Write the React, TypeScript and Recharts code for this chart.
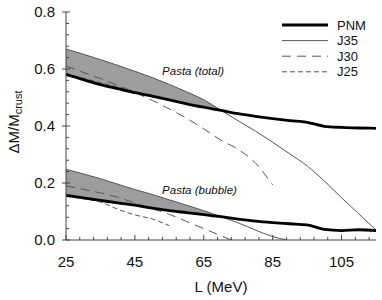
import React from 'react';
import { ComposedChart, Line, Area, XAxis, YAxis, ReferenceDot } from 'recharts';

// ---- data ----
const totalL = [25, 30, 35, 40, 45, 50, 55, 60, 65, 70, 75, 80, 85, 90, 95, 100, 105, 110, 115];
const pnmTotal = [0.581, 0.563, 0.545, 0.531, 0.517, 0.505, 0.492, 0.478, 0.466, 0.455, 0.443, 0.434, 0.426, 0.419, 0.413, 0.399, 0.395, 0.393, 0.392];
const j35Total = [0.67, 0.652, 0.633, 0.613, 0.592, 0.57, 0.546, 0.52, 0.492, 0.455, 0.418, 0.382, 0.343, 0.302, 0.26, 0.207, 0.148, 0.092, 0.035];
const j30TotalL = [25, 30, 35, 40, 45, 50, 55, 60, 65, 70, 75, 80, 85];
const j30Total = [0.61, 0.588, 0.566, 0.543, 0.518, 0.49, 0.46, 0.427, 0.39, 0.35, 0.318, 0.27, 0.193];
const j25TotalL = [25, 30, 35, 40, 45, 49];
const j25Total = [0.584, 0.568, 0.552, 0.537, 0.521, 0.508];

const bubbleL = [25, 30, 35, 40, 45, 50, 55, 60, 65, 70, 75, 80, 85, 90, 95, 100, 105, 110, 115];
const pnmBubble = [0.157, 0.148, 0.139, 0.13, 0.122, 0.112, 0.103, 0.096, 0.089, 0.082, 0.073, 0.066, 0.061, 0.057, 0.053, 0.037, 0.033, 0.036, 0.033];
const j35BubbleL = [25, 30, 35, 40, 45, 50, 55, 60, 65, 70, 75, 80, 85, 89];
const j35Bubble = [0.248, 0.232, 0.215, 0.196, 0.177, 0.16, 0.141, 0.122, 0.103, 0.082, 0.06, 0.035, 0.012, 0];
const j30BubbleL = [25, 30, 35, 40, 45, 50, 55, 60, 65, 70, 73];
const j30Bubble = [0.19, 0.178, 0.165, 0.15, 0.13, 0.11, 0.09, 0.065, 0.04, 0.015, 0];
const j25BubbleL = [25, 30, 35, 40, 45, 50, 55];
const j25Bubble = [0.153, 0.145, 0.133, 0.108, 0.088, 0.074, 0.05];

const bandEndL = 70;

const xTicks = [25, 29, 33, 37, 41, 45, 49, 53, 57, 61, 65, 69, 73, 77, 81, 85, 89, 93, 97, 101, 105, 109, 113];
const xMajor = [25, 45, 65, 85, 105];
const yTicks = [0, 0.04, 0.08, 0.12, 0.16, 0.2, 0.24, 0.28, 0.32, 0.36, 0.4, 0.44, 0.48, 0.52, 0.56, 0.6, 0.64, 0.68, 0.72, 0.76, 0.8];
const yMajor = [0, 0.2, 0.4, 0.6, 0.8];

const legendNames = ['PNM', 'J35', 'J30', 'J25'];
const annotations = [
  { text: 'Pasta (total)', L: 52.9, v: 0.593 },
  { text: 'Pasta (bubble)', L: 52.9, v: 0.175 },
];

// ---- styles ----
const FONT = '"Liberation Sans", Arial, sans-serif';
const AXIS = '#444';
const styles: Record<string, any> = {
  PNM: { stroke: '#000', strokeWidth: 2.8 },
  J35: { stroke: '#555', strokeWidth: 1 },
  J30: { stroke: '#555', strokeWidth: 1, strokeDasharray: '9 6' },
  J25: { stroke: '#555', strokeWidth: 1, strokeDasharray: '5 3' },
};

const zip = (xs: number[], ys: number[]) => xs.map((x, i) => ({ L: x, v: ys[i] }));
const band = (xs: number[], lo: number[], hi: number[]) =>
  xs.map((x, i) => ({ L: x, range: [lo[i], hi[i]] })).filter((d) => d.L <= bandEndL);

const series = [
  { name: 'PNM', data: zip(totalL, pnmTotal) },
  { name: 'J35', data: zip(totalL, j35Total) },
  { name: 'J30', data: zip(j30TotalL, j30Total) },
  { name: 'J25', data: zip(j25TotalL, j25Total) },
  { name: 'PNM', data: zip(bubbleL, pnmBubble) },
  { name: 'J35', data: zip(j35BubbleL, j35Bubble) },
  { name: 'J30', data: zip(j30BubbleL, j30Bubble) },
  { name: 'J25', data: zip(j25BubbleL, j25Bubble) },
];
const drawOrder = ['J25', 'J30', 'J35', 'PNM'];

const XTick = (props: any) => {
  const { x, y, payload } = props;
  const major = xMajor.includes(payload.value);
  if (!major) return <line x1={x} x2={x} y1={y} y2={y - 3} stroke={AXIS} strokeWidth={1} />;
  return (
    <g>
      <line x1={x} x2={x} y1={y} y2={y - 5} stroke={AXIS} strokeWidth={1} />
      <text x={x} y={y + 22} dy="0.355em" textAnchor="middle" fontSize={15} fontFamily={FONT} fill="#111">
        {payload.value}
      </text>
    </g>
  );
};

const YTick = (props: any) => {
  const { x, y, payload } = props;
  const major = yMajor.some((m) => Math.abs(m - payload.value) < 1e-9);
  if (!major) return <line x1={x} x2={x + 3} y1={y} y2={y} stroke={AXIS} strokeWidth={1} />;
  return (
    <g>
      <line x1={x - 4} x2={x + 4} y1={y} y2={y} stroke={AXIS} strokeWidth={1} />
      <text x={x - 11} y={y} dy="0.355em" textAnchor="end" fontSize={15} fontFamily={FONT} fill="#111">
        {payload.value.toFixed(1)}
      </text>
    </g>
  );
};

const RTick = (props: any) => {
  const { x, y, payload } = props;
  const major = yMajor.some((m) => Math.abs(m - payload.value) < 1e-9);
  return <line x1={x} x2={x - (major ? 5 : 3)} y1={y} y2={y} stroke={AXIS} strokeWidth={1} />;
};

const YLabel = (props: any) => {
  const vb = props.viewBox;
  const cx = 19;
  const cy = vb.y + vb.height / 2 - 4;
  return (
    <text transform={`translate(${cx},${cy}) rotate(-90)`} textAnchor="middle" fontFamily={FONT} fontSize={15} fill="#111">
      <tspan>ΔM/M</tspan>
      <tspan fontSize={11} dy={3}>crust</tspan>
    </text>
  );
};

const XLabel = (props: any) => {
  const vb = props.viewBox;
  return (
    <text x={vb.x + vb.width / 2} y={vb.y + 47} dy="0.355em" textAnchor="middle" fontFamily={FONT} fontSize={15} fill="#111">
      L (MeV)
    </text>
  );
};

const LegendBox = () => (
  <svg width={100} height={66} style={{ position: 'absolute', left: 276, top: 17, display: 'block' }}>
    {legendNames.map((n, i) => {
      const y = 8 + i * 15.6;
      return (
        <g key={n}>
          <line x1={6} x2={52} y1={y} y2={y} {...styles[n]} />
          <text x={61} y={y} dy="0.355em" fontFamily={FONT} fontSize={13} fill="#111">
            {n}
          </text>
        </g>
      );
    })}
  </svg>
);

const AnnLabel = (text: string) => (props: any) => {
  const vb = props.viewBox;
  return (
    <text x={vb.x} y={vb.y} dy="0.355em" fontFamily={FONT} fontSize={11.5} fontStyle="italic" fill="#111">
      {text}
    </text>
  );
};

export default function App() {
  return (
    <div style={{ position: 'absolute', left: 0, top: 0, width: 382, height: 300, background: '#fff' }}>
      <ComposedChart width={382} height={300} margin={{ top: 12, right: 6, bottom: 0, left: 0 }}>
        <XAxis
          type="number"
          dataKey="L"
          domain={[25, 115]}
          ticks={xTicks}
          interval={0}
          allowDataOverflow
          tickSize={0}
          tickMargin={0}
          tickLine={false}
          axisLine={{ stroke: AXIS, strokeWidth: 1 }}
          tick={<XTick />}
          height={60}
          label={<XLabel />}
        />
        <YAxis
          type="number"
          domain={[0, 0.8]}
          ticks={yTicks}
          interval={0}
          allowDataOverflow
          tickSize={0}
          tickMargin={0}
          tickLine={false}
          axisLine={{ stroke: AXIS, strokeWidth: 1 }}
          tick={<YTick />}
          width={66}
          label={<YLabel />}
        />
        <YAxis
          yAxisId="r"
          orientation="right"
          type="number"
          domain={[0, 0.8]}
          ticks={yTicks}
          interval={0}
          allowDataOverflow
          tickSize={0}
          tickMargin={0}
          tickLine={false}
          axisLine={{ stroke: AXIS, strokeWidth: 1 }}
          tick={<RTick />}
          width={0}
        />
        <Area
          data={band(totalL, pnmTotal, j35Total)}
          dataKey="range"
          type="monotone"
          fill="#9d9d9d"
          fillOpacity={1}
          stroke="none"
          isAnimationActive={false}
          legendType="none"
          activeDot={false}
        />
        <Area
          data={band(bubbleL, pnmBubble, j35Bubble.slice(0, bubbleL.filter((x) => x <= bandEndL).length))}
          dataKey="range"
          type="monotone"
          fill="#9d9d9d"
          fillOpacity={1}
          stroke="none"
          isAnimationActive={false}
          legendType="none"
          activeDot={false}
        />
        {drawOrder.flatMap((name) =>
          series
            .filter((s) => s.name === name)
            .map((s, i) => (
              <Line
                key={name + i}
                data={s.data}
                dataKey="v"
                type="monotone"
                dot={false}
                activeDot={false}
                isAnimationActive={false}
                {...styles[name]}
              />
            ))
        )}
        {annotations.map((a) => (
          <ReferenceDot key={a.text} x={a.L} y={a.v} r={0} fill="none" stroke="none" label={AnnLabel(a.text)} />
        ))}
      </ComposedChart>
      <LegendBox />
    </div>
  );
}
